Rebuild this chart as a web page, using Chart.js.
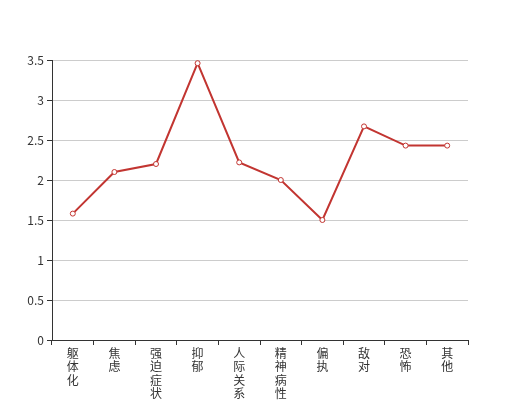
<!DOCTYPE html>
<html>
<head>
<meta charset="utf-8">
<script src="https://cdn.jsdelivr.net/npm/chart.js@4"></script>
<style>
  body { margin: 0; background: #fff; }
  canvas { display: block; }
</style>
</head>
<body>
<canvas id="myChart" width="520" height="400"></canvas>
<script>
// 因子名称和得分
const categories = ['躯体化', '焦虑', '强迫症状', '抑郁', '人际关系敏感', '精神病性', '偏执', '敌对', '恐怖', '其他'];
const scores = [1.58, 2.10, 2.20, 3.46, 2.22, 2.00, 1.50, 2.67, 2.43, 2.43];
const yTicks = [0, 0.5, 1, 1.5, 2, 2.5, 3, 3.5];

// 竖排文字：每个字一行
const labels = categories.map(name => name.split(''));

const ctx = document.getElementById('myChart');
new Chart(ctx, {
  type: 'line',
  data: {
    labels: labels,
    datasets: [{
      label: '得分',
      data: scores,
      borderColor: '#c23531',
      backgroundColor: '#ffffff',
      borderWidth: 2,
      pointRadius: 2.5,
      pointBorderWidth: 1,
      pointBackgroundColor: '#ffffff',
      pointBorderColor: '#c23531',
      tension: 0
    }]
  },
  options: {
    responsive: false,
    animation: false,
    layout: { padding: { top: 60, right: 52, bottom: 0, left: 0 } },
    plugins: { legend: { display: false }, tooltip: { enabled: false } },
    scales: {
      x: {
        offset: true,
        afterFit: scale => { scale.height = 60; },
        border: { color: '#333', width: 1 },
        grid: { drawOnChartArea: false, offset: true, tickLength: 5, color: '#333' },
        ticks: {
          autoSkip: false,
          maxRotation: 0,
          minRotation: 0,
          padding: 2,
          color: '#333',
          font: { size: 12, family: '"Noto Sans CJK SC", sans-serif', lineHeight: 1.1 }
        }
      },
      y: {
        min: yTicks[0],
        max: yTicks[yTicks.length - 1],
        afterFit: scale => { scale.width = 52; },
        afterBuildTicks: scale => { scale.ticks = yTicks.map(v => ({ value: v })); },
        border: { color: '#333', width: 1 },
        grid: { color: '#cccccc', tickColor: '#333', tickLength: 5 },
        ticks: {
          padding: 3,
          color: '#333',
          callback: value => String(value),
          font: { size: 12, family: '"Noto Sans CJK SC", sans-serif' }
        }
      }
    }
  }
});
</script>
</body>
</html>
